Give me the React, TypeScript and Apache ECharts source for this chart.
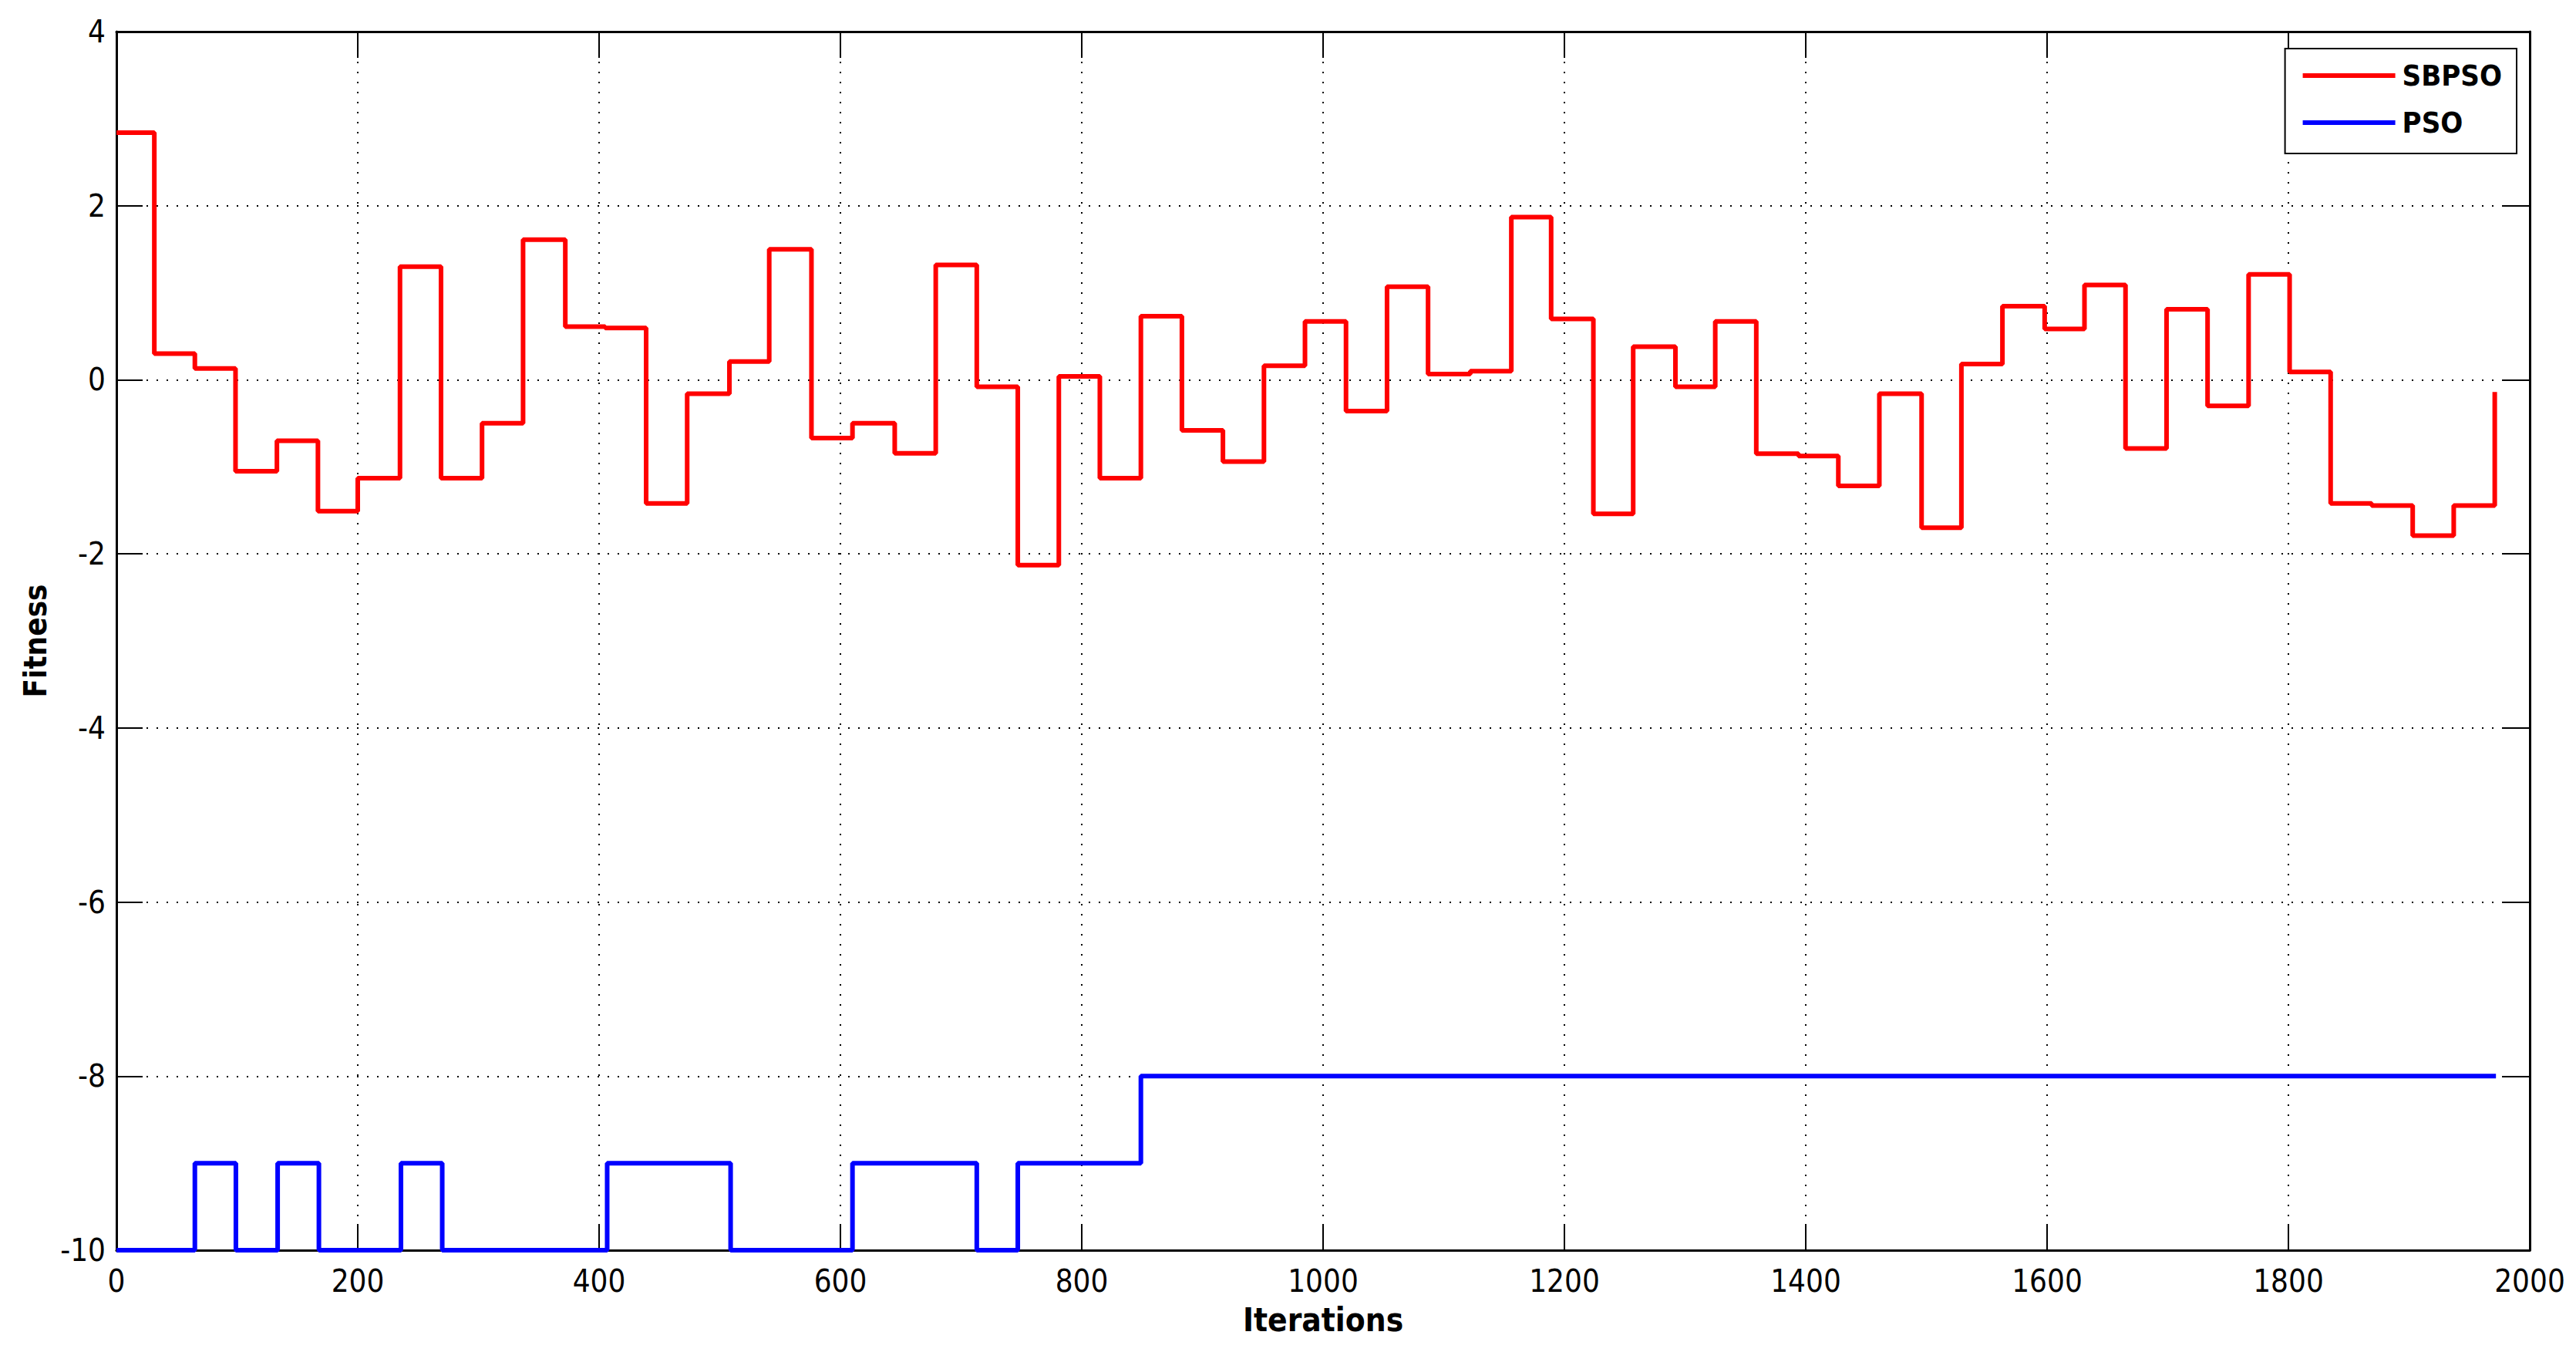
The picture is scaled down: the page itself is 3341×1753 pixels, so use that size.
import React, { useEffect, useRef } from "react";
import * as echarts from "echarts";

// Start x of each step and the value held from there (MATLAB-style stairs)
const sbpsoX = [0, 31.4, 65, 98.7, 133, 167, 200, 235, 269, 303, 337, 372, 405, 439, 473, 508, 541, 576, 610, 645, 679, 713, 747, 781, 815, 849, 883, 917, 951, 985, 1019, 1053, 1087, 1122, 1156, 1189, 1224, 1257, 1292, 1325, 1359, 1394, 1427, 1461, 1496, 1529, 1563, 1598, 1631, 1665, 1699, 1733, 1767, 1801, 1835, 1869, 1903, 1937, 1971];
const sbpsoY = [2.84, 0.30, 0.13, -1.05, -0.70, -1.51, -1.13, 1.30, -1.13, -0.50, 1.61, 0.61, 0.595, -1.42, -0.16, 0.21, 1.50, -0.67, -0.50, -0.845, 1.32, -0.08, -2.13, 0.04, -1.13, 0.73, -0.58, -0.94, 0.16, 0.67, -0.36, 1.07, 0.066, 0.10, 1.87, 0.70, -1.54, 0.38, -0.08, 0.67, -0.85, -0.875, -1.22, -0.16, -1.70, 0.18, 0.845, 0.585, 1.09, -0.79, 0.81, -0.30, 1.21, 0.09, -1.42, -1.445, -1.79, -1.445, -0.14];

const psoX = [0, 65, 99, 133.6, 167.8, 235.8, 270, 406.7, 509, 610, 713, 747, 849, 1972];
const psoY = [-10, -9, -10, -9, -10, -9, -10, -9, -10, -9, -10, -9, -8, -8];

const seriesNames = ["SBPSO", "PSO"];
const seriesColors = ["#ff0000", "#0000ff"];
const xTitle = "Iterations";
const yTitle = "Fitness";

const FONT = "'Liberation Sans Narrow', 'DejaVu Sans Condensed', 'Liberation Sans', Arial, sans-serif";

export default function App() {
  const ref = useRef<HTMLDivElement>(null);
  useEffect(() => {
    if (!ref.current) return;
    const chart = echarts.init(ref.current, null, { renderer: "svg" });
    const gridLine = { show: true, lineStyle: { color: "#000", type: [2, 11], width: 2 } };
    const axisLine = { show: true, onZero: false, lineStyle: { color: "#000", width: 3 } };
    const tick = { show: true, inside: true, length: 34, lineStyle: { color: "#000", width: 2 } };
    const label = { color: "#000", fontSize: 40, fontFamily: FONT, formatter: (v: number) => String(v) };
    chart.setOption({
      animation: false,
      backgroundColor: "#fff",
      grid: { left: 151, right: 60, top: 41, bottom: 132, containLabel: false },
      legend: {
        orient: "vertical",
        right: 77,
        top: 63,
        backgroundColor: "#fff",
        borderColor: "#000",
        borderWidth: 2,
        borderRadius: 0,
        padding: [15, 19, 20, 23],
        itemGap: 21,
        itemWidth: 120,
        itemHeight: 6,
        icon: "rect",
        textStyle: { color: "#000", fontSize: 38, fontWeight: "bold", fontFamily: FONT, lineHeight: 40, padding: [0, 0, 0, 4] },
        data: seriesNames,
      },
      xAxis: [
        {
          type: "value", min: 0, max: 2000, interval: 200, position: "bottom",
          axisLine, axisTick: tick, splitLine: gridLine,
          axisLabel: { ...label, margin: 20 },
          name: xTitle, nameLocation: "middle", nameGap: 69,
          nameTextStyle: { color: "#000", fontSize: 42, fontWeight: "bold", fontFamily: FONT },
        },
        {
          type: "value", min: 0, max: 2000, interval: 200, position: "top",
          axisLine, axisTick: tick, splitLine: { show: false }, axisLabel: { show: false },
        },
      ],
      yAxis: [
        {
          type: "value", min: -10, max: 4, interval: 2, position: "left",
          axisLine, axisTick: tick, splitLine: gridLine,
          axisLabel: { ...label, margin: 14 },
          name: yTitle, nameLocation: "middle", nameGap: 85, nameRotate: 90,
          nameTextStyle: { color: "#000", fontSize: 40, fontWeight: "bold", fontFamily: FONT },
        },
        {
          type: "value", min: -10, max: 4, interval: 2, position: "right",
          axisLine, axisTick: tick, splitLine: { show: false }, axisLabel: { show: false },
        },
      ],
      series: [
        {
          name: seriesNames[0], type: "line", step: "end", symbol: "none",
          color: seriesColors[0],
          lineStyle: { color: seriesColors[0], width: 6 },
          data: sbpsoX.map((x, i) => [x, sbpsoY[i]]),
          z: 3,
        },
        {
          name: seriesNames[1], type: "line", step: "end", symbol: "none",
          color: seriesColors[1],
          lineStyle: { color: seriesColors[1], width: 6 },
          data: psoX.map((x, i) => [x, psoY[i]]),
          z: 4,
        },
      ],
    });
    return () => chart.dispose();
  }, []);
  return <div ref={ref} style={{ position: "fixed", left: 0, top: 0, width: 3341, height: 1753 }} />;
}
